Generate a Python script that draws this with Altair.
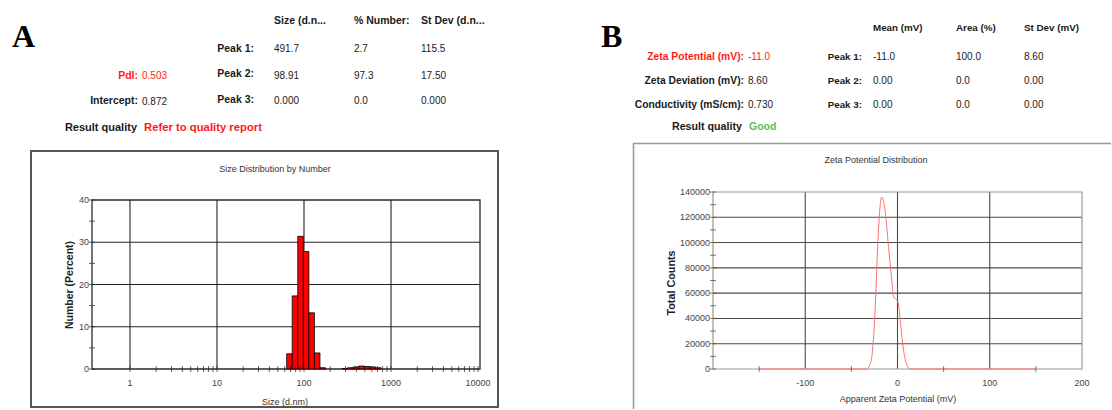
import altair as alt
import pandas as pd

# ---------------- data ----------------
# Panel A: size distribution by number (Malvern size classes, nm) and % number
size_bins_nm = [68.06, 78.82, 91.28, 105.7, 122.4, 141.8, 164.2,
                295.3, 342.0, 396.1, 458.7, 531.2, 615.1, 712.4]
number_pct = [3.6, 17.3, 31.4, 27.8, 13.3, 3.8, 0.3,
              0.1, 0.3, 0.5, 0.7, 0.6, 0.5, 0.3]
size_axis_labels = [1, 10, 100, 1000, 10000]
size_grid = [1, 10, 100, 1000]
size_minor_ticks = [1, 2, 3, 4, 5, 6, 7, 8, 9,
                    10, 20, 30, 40, 50, 60, 70, 80, 90,
                    100, 200, 300, 400, 500, 600, 700, 800, 900,
                    1000, 2000, 3000, 4000, 5000, 6000, 7000, 8000, 9000, 10000]
number_axis_labels = [0, 10, 20, 30, 40]
number_grid = [10, 20, 30]
number_ticks = [0, 5, 10, 15, 20, 25, 30, 35, 40]

# Panel B: zeta potential distribution
zeta_mv = [-150, -33.5, -30, -28, -24.4, -21.5, -18.9, -17.2, -13.5, -9.8,
           -6.2, -4.4, 0.3, 2.9, 4.7, 8.4, 11, 13.9, 150]
zeta_counts = [0, 0, 3400, 8700, 44300, 97000, 128600, 136000, 126000, 97000,
               70600, 57400, 53500, 39000, 25800, 7400, 2000, 0, 0]
zeta_axis_labels = [-100, 0, 100, 200]
zeta_grid = [-100, 0, 100]
zeta_minor_ticks = [-150, -50, 50, 150]
counts_axis_labels = [0, 20000, 40000, 60000, 80000, 100000, 120000, 140000]
counts_grid = [20000, 40000, 60000, 80000, 100000, 120000]
counts_ticks = [0, 10000, 20000, 30000, 40000, 50000, 60000, 70000,
                80000, 90000, 100000, 110000, 120000, 130000, 140000]

# Text of the result tables
A_letter = "A"
A_title = "Size Distribution by Number"
A_xtitle = "Size (d.nm)"
A_ytitle = "Number (Percent)"
A_headers = ["Size (d.n...", "% Number:", "St Dev (d.n..."]
A_peak_labels = ["Peak 1:", "Peak 2:", "Peak 3:"]
A_peak_size = ["491.7", "98.91", "0.000"]
A_peak_number = ["2.7", "97.3", "0.0"]
A_peak_stdev = ["115.5", "17.50", "0.000"]
A_left_labels = ["PdI:", "Intercept:"]
A_left_values = ["0.503", "0.872"]
A_quality = ["Result quality", "Refer to quality report"]

B_letter = "B"
B_title = "Zeta Potential Distribution"
B_xtitle = "Apparent Zeta Potential (mV)"
B_ytitle = "Total Counts"
B_headers = ["Mean (mV)", "Area (%)", "St Dev (mV)"]
B_peak_labels = ["Peak 1:", "Peak 2:", "Peak 3:"]
B_peak_mean = ["-11.0", "0.00", "0.00"]
B_peak_area = ["100.0", "0.0", "0.0"]
B_peak_stdev = ["8.60", "0.00", "0.00"]
B_left_labels = ["Zeta Potential (mV):", "Zeta Deviation (mV):", "Conductivity (mS/cm):"]
B_left_values = ["-11.0", "8.60", "0.730"]
B_quality = ["Result quality", "Good"]

# ---------------- layout / style ----------------
FONT = "Liberation Sans"
SERIF = "Liberation Serif"
BLACK = "#1a1a1a"
RED = "#ff1a1a"
GREEN = "#5cc05c"
LABEL = "#444444"

PAGE_W, PAGE_H = 1112, 410
SPLIT = 556
BOTTOM = 369              # page y of both x axes
OA = (92, 192)            # panel A cell origin on the page
A_W = 388
A_PLOT_H = 169            # A's drawn frame is 169 px tall (top at page y 200)
A_XDOM = [0.366, 10540]
A_YDOM = [0, 40]
OB = (713, 192)           # panel B cell origin on the page
B_W, B_H = 369, 177
B_XDOM = [-200, 200]
B_YDOM = [0, 140000]
CELL_H = BOTTOM - OA[1]   # both cells share this height
# A's cell is taller than its frame, so its y scale runs a little past 40
A_YTOP = A_YDOM[1] * CELL_H / A_PLOT_H


def text_layer(items, origin, font=FONT, **kw):
    df = pd.DataFrame([{"t": t, "px": x - origin[0], "py": y - origin[1], "c": c}
                       for (t, x, y, c) in items])
    return alt.Chart(df).mark_text(font=font, **kw).encode(
        x=alt.X("px:Q", scale=None, axis=None),
        y=alt.Y("py:Q", scale=None, axis=None),
        text="t:N",
        color=alt.Color("c:N", scale=None),
    )


def box(x0, y0, x1, y1, origin, **kw):
    return alt.Chart(alt.Data(values=[{}])).mark_rect(**kw).encode(
        x=alt.value(x0 - origin[0]), x2=alt.value(x1 - origin[0]),
        y=alt.value(y0 - origin[1]), y2=alt.value(y1 - origin[1]),
    )


def hline(x0, x1, y, origin, **kw):
    return alt.Chart(alt.Data(values=[{}])).mark_rule(**kw).encode(
        x=alt.value(x0 - origin[0]), x2=alt.value(x1 - origin[0]), y=alt.value(y - origin[1]))


def vline(x, y0, y1, origin, **kw):
    return alt.Chart(alt.Data(values=[{}])).mark_rule(**kw).encode(
        x=alt.value(x - origin[0]), y=alt.value(y0 - origin[1]), y2=alt.value(y1 - origin[1]))


def panel_layers(xs, ys, xdom, ydom, grid_x, grid_y, ticks_x, ticks_y, lab_x, lab_y,
                 grid_color, frame_color, frame_w, tick_color):
    vgrid = alt.Chart(pd.DataFrame({"v": grid_x, "y0": ydom[0], "y1": ydom[1]})).mark_rule(
        color=grid_color, strokeWidth=1.1).encode(
        x=alt.X("v:Q", scale=xs, axis=None), y=alt.Y("y0:Q", scale=ys, axis=None), y2="y1:Q")
    hgrid = alt.Chart(pd.DataFrame({"v": grid_y, "x0": xdom[0], "x1": xdom[1]})).mark_rule(
        color=grid_color, strokeWidth=1.1).encode(
        y=alt.Y("v:Q", scale=ys, axis=None), x=alt.X("x0:Q", scale=xs, axis=None), x2="x1:Q")
    frame = alt.Chart(pd.DataFrame({"x0": [xdom[0]], "x1": [xdom[1]],
                                    "y0": [ydom[0]], "y1": [ydom[1]]})).mark_rect(
        fillOpacity=0, stroke=frame_color, strokeWidth=frame_w).encode(
        x=alt.X("x0:Q", scale=xs, axis=None), x2="x1:Q",
        y=alt.Y("y0:Q", scale=ys, axis=None), y2="y1:Q")
    xt = alt.Chart(pd.DataFrame({"v": ticks_x, "b": ydom[0]})).mark_tick(
        orient="vertical", size=6, thickness=1, color=tick_color).encode(
        x=alt.X("v:Q", scale=xs, axis=None), y=alt.Y("b:Q", scale=ys, axis=None))
    yt = alt.Chart(pd.DataFrame({"v": ticks_y, "b": xdom[0]})).mark_tick(
        orient="horizontal", size=6, thickness=1, color=tick_color).encode(
        y=alt.Y("v:Q", scale=ys, axis=None), x=alt.X("b:Q", scale=xs, axis=None))
    xl = alt.Chart(pd.DataFrame({"v": lab_x, "lab": [str(v) for v in lab_x], "b": ydom[0]})).mark_text(
        font=FONT, fontSize=9, color=LABEL, dy=14, baseline="middle").encode(
        x=alt.X("v:Q", scale=xs, axis=None), y=alt.Y("b:Q", scale=ys, axis=None),
        text="lab:N")
    yl = alt.Chart(pd.DataFrame({"v": lab_y, "lab": [str(v) for v in lab_y], "b": xdom[0]})).mark_text(
        font=FONT, fontSize=9, color=LABEL, dx=-3, align="right", baseline="middle").encode(
        y=alt.Y("v:Q", scale=ys, axis=None), x=alt.X("b:Q", scale=xs, axis=None),
        text="lab:N")
    return [vgrid, hgrid, frame], [xt, yt, xl, yl]


# ================= Panel A =================
xA = alt.Scale(type="log", domain=A_XDOM, nice=False)
yA = alt.Scale(domain=[A_YDOM[0], A_YTOP], nice=False)

a_extent = box(0, 0, SPLIT, PAGE_H, OA, opacity=0)
a_box = box(31, 151, 498, 407, OA, fillOpacity=0, stroke="#555555", strokeWidth=2)
a_back, a_front = panel_layers(xA, yA, A_XDOM, A_YDOM, size_grid, number_grid,
                               size_minor_ticks, number_ticks, size_axis_labels,
                               number_axis_labels, "#222222", "#2a2a2a", 1.3, "#222222")

a_bars = alt.Chart(pd.DataFrame({"size": size_bins_nm, "pct": number_pct})).transform_calculate(
    lo="datum.size / 1.0762", hi="datum.size * 1.0762", base="0"
).mark_bar(color="#ff0000", stroke="#000000", strokeWidth=0.8).encode(
    x=alt.X("lo:Q", scale=xA, axis=None), x2="hi:Q",
    y=alt.Y("pct:Q", scale=yA, axis=None), y2="base:Q",
)

a_head = text_layer([(A_headers[i], x, 21, BLACK) for i, x in enumerate([274, 354, 421])],
                    OA, fontSize=10.5, fontWeight="bold", align="left", baseline="middle")
a_plabels = text_layer([(A_peak_labels[i], 254, y, BLACK) for i, y in enumerate([49, 74, 100])],
                       OA, fontSize=10.5, fontWeight="bold", align="right", baseline="middle")
a_vals = text_layer(
    [(col[i], x, y, BLACK)
     for col, x in [(A_peak_size, 274), (A_peak_number, 354), (A_peak_stdev, 421)]
     for i, y in enumerate([49, 75.5, 100.5])]
    + [(A_left_values[0], 142, 76, RED), (A_left_values[1], 142, 101.5, BLACK)],
    OA, fontSize=10, align="left", baseline="middle")
a_llabels = text_layer([(A_left_labels[0], 138, 75.5, RED), (A_left_labels[1], 138, 101, BLACK)],
                       OA, fontSize=10.5, fontWeight="bold", align="right", baseline="middle")
a_qual = text_layer([(A_quality[0], 137, 127.5, BLACK)], OA, fontSize=11, fontWeight="bold",
                    align="right", baseline="middle")
a_qual2 = text_layer([(A_quality[1], 144, 127.5, RED)], OA, fontSize=11.3, fontWeight="bold",
                     align="left", baseline="middle")
a_letter = text_layer([(A_letter, 12, 47, "#000000")], OA, font=SERIF, fontSize=32,
                      fontWeight="bold", align="left", baseline="alphabetic")
a_title = text_layer([(A_title, 275, 169, "#333333"), (A_xtitle, 285, 402, "#333333")], OA,
                     fontSize=9, align="center", baseline="middle")
a_ytitle = text_layer([(A_ytitle, 70, 285, "#222222")], OA, fontSize=10.5, fontWeight="bold",
                      angle=270, align="center", baseline="middle")

panel_a = alt.layer(
    a_extent, a_box, *a_back, a_bars, *a_front,
    a_head, a_plabels, a_vals, a_llabels, a_qual, a_qual2, a_letter, a_title, a_ytitle,
).properties(width=A_W, height=CELL_H)

# ================= Panel B =================
xB = alt.Scale(domain=B_XDOM, nice=False)
yB = alt.Scale(domain=B_YDOM, nice=False)

b_extent = box(SPLIT, 0, PAGE_W, PAGE_H, OB, opacity=0)
b_top = hline(633, PAGE_W - 1, 143.5, OB, color="#999999", strokeWidth=1.5)
b_left = vline(633.5, 143, PAGE_H - 1, OB, color="#999999", strokeWidth=1.5)
b_back, b_front = panel_layers(xB, yB, B_XDOM, B_YDOM, zeta_grid, counts_grid,
                               zeta_minor_ticks, counts_ticks, zeta_axis_labels,
                               counts_axis_labels, "#4a4a4a", "#999999", 1.2, "#444444")

b_line = alt.Chart(pd.DataFrame({"mv": zeta_mv, "counts": zeta_counts})).mark_line(
    color="#ff6f6f", strokeWidth=1, interpolate="monotone").encode(
    x=alt.X("mv:Q", scale=xB, axis=None),
    y=alt.Y("counts:Q", scale=yB, axis=None),
)

B_COLS = [873, 956, 1024]
B_ROWS = [57, 81, 105]
b_head = text_layer([(B_headers[i], x, 28, BLACK) for i, x in enumerate(B_COLS)],
                    OB, fontSize=9.8, fontWeight="bold", align="left", baseline="middle")
b_plabels = text_layer([(B_peak_labels[i], 862, y, BLACK) for i, y in enumerate(B_ROWS)],
                       OB, fontSize=9.8, fontWeight="bold", align="right", baseline="middle")
b_vals = text_layer(
    [(col[i], x, y, BLACK)
     for col, x in zip([B_peak_mean, B_peak_area, B_peak_stdev], B_COLS)
     for i, y in enumerate(B_ROWS)]
    + [(B_left_values[0], 748, 57, RED), (B_left_values[1], 748, 81, BLACK),
       (B_left_values[2], 748, 105, BLACK)],
    OB, fontSize=10, align="left", baseline="middle")
b_llabels = text_layer([(B_left_labels[0], 744, 57, RED), (B_left_labels[1], 744, 81, BLACK),
                        (B_left_labels[2], 744, 105, BLACK)],
                       OB, fontSize=10.3, fontWeight="bold", align="right", baseline="middle")
b_qual = text_layer([(B_quality[0], 742, 127, BLACK)], OB, fontSize=10.7, fontWeight="bold",
                    align="right", baseline="middle")
b_qual2 = text_layer([(B_quality[1], 749, 127, GREEN)], OB, fontSize=10.5, fontWeight="bold",
                     align="left", baseline="middle")
b_letter = text_layer([(B_letter, 601, 47, "#000000")], OB, font=SERIF, fontSize=32,
                      fontWeight="bold", align="left", baseline="alphabetic")
b_title = text_layer([(B_title, 876, 160, "#333333"), (B_xtitle, 898, 399, "#333333")], OB,
                     fontSize=9, align="center", baseline="middle")
b_ytitle = text_layer([(B_ytitle, 672, 283, "#222222")], OB, fontSize=10.8, fontWeight="bold",
                      angle=270, align="center", baseline="middle")

panel_b = alt.layer(
    b_extent, b_top, b_left, *b_back, b_line, *b_front,
    b_head, b_plabels, b_vals, b_llabels, b_qual, b_qual2, b_letter, b_title, b_ytitle,
).properties(width=B_W, height=B_H)

chart = alt.hconcat(
    panel_a, panel_b, spacing=OB[0] - (OA[0] + A_W), bounds="flush"
).properties(padding=0, background="white").configure_view(strokeWidth=0)

chart.save("out.html", embed_options={"renderer": "svg", "actions": False})
